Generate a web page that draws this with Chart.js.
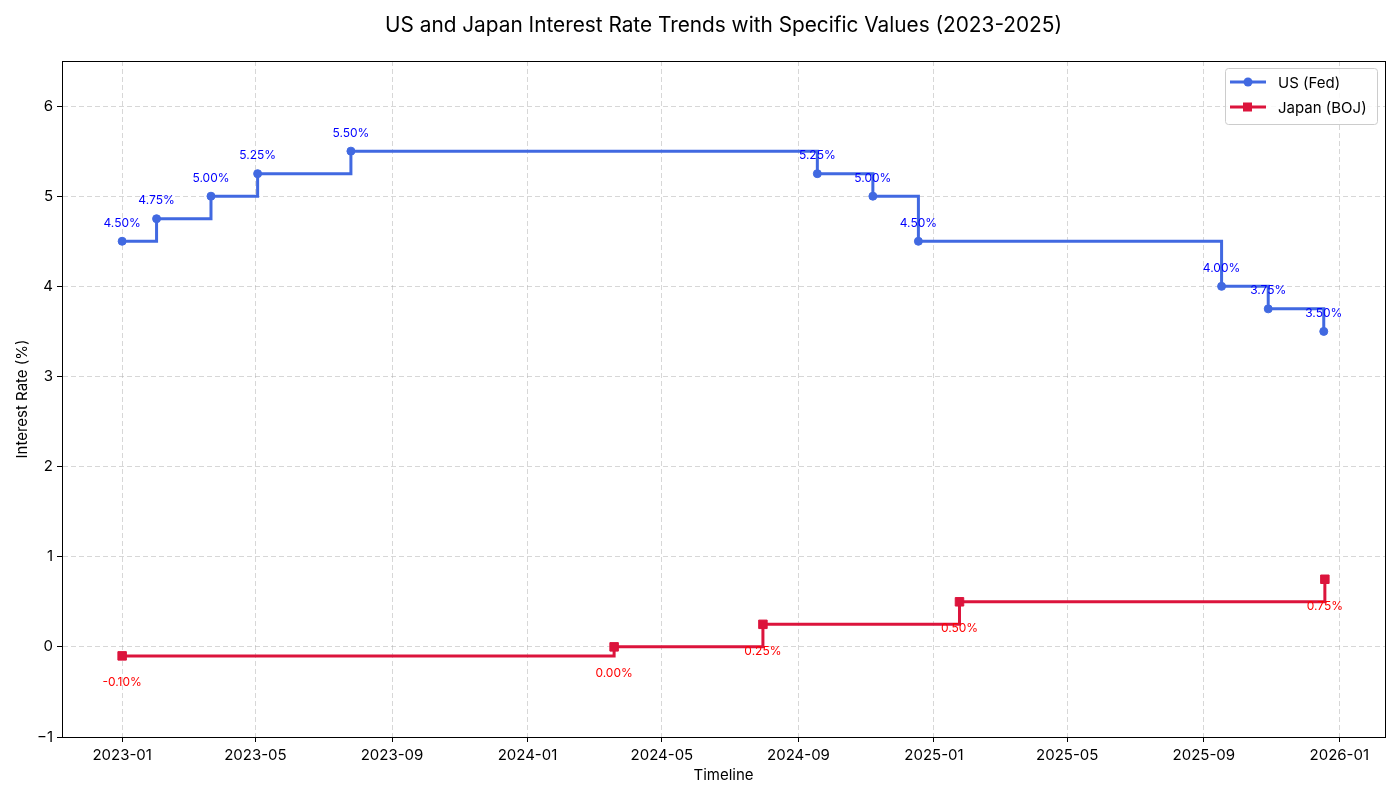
<!DOCTYPE html>
<html><head><meta charset="utf-8">
<script src="https://cdn.jsdelivr.net/npm/chart.js@4.4.1/dist/chart.umd.min.js"></script>
<style>html,body{margin:0;padding:0;background:#fff}#wrap{width:1400px;height:800px}</style>
</head><body><div id="wrap"><canvas id="c" width="1400" height="800"></canvas></div>
<script>
const usDates = ['2023-01-01','2023-02-01','2023-03-22','2023-05-03','2023-07-26','2024-09-18','2024-11-07','2024-12-18','2025-09-17','2025-10-29','2025-12-18'];
const usRates = [4.50,4.75,5.00,5.25,5.50,5.25,5.00,4.50,4.00,3.75,3.50];
const jpDates = ['2023-01-01','2024-03-19','2024-07-31','2025-01-24','2025-12-19'];
const jpRates = [-0.10,0.00,0.25,0.50,0.75];
const xTickDates = ['2023-01-01','2023-05-01','2023-09-01','2024-01-01','2024-05-01','2024-09-01','2025-01-01','2025-05-01','2025-09-01','2026-01-01'];
const yTicks = [-1,0,1,2,3,4,5,6];
const titleText = 'US and Japan Interest Rate Trends with Specific Values (2023-2025)';

const FONT = 'Inter, Roboto, sans-serif';
const base = Date.UTC(2023,0,1);
function toDays(s){const p=s.split('-').map(Number);return (Date.UTC(p[0],p[1]-1,p[2])-base)/86400000;}
function fromDays(d){const dt=new Date(base+Math.round(d)*86400000);return dt.getUTCFullYear()+'-'+String(dt.getUTCMonth()+1).padStart(2,'0');}
const usData = usDates.map((d,i)=>({x:toDays(d),y:usRates[i]}));
const jpData = jpDates.map((d,i)=>({x:toDays(d),y:jpRates[i]}));
const allX = usData.concat(jpData).map(p=>p.x);
const xMinD = Math.min(...allX), xMaxD = Math.max(...allX), span = xMaxD-xMinD;

const labelPlugin = {
  id:'valueLabels',
  afterDatasetsDraw(chart){
    const ctx=chart.ctx;
    ctx.save();
    ctx.font='12px '+FONT;
    ctx.textAlign='center';ctx.textBaseline='middle';
    chart.data.datasets.forEach((ds,di)=>{
      const meta=chart.getDatasetMeta(di);
      meta.data.forEach((pt,i)=>{
        const v=ds.data[i].y;
        ctx.fillStyle=ds.labelColor;
        ctx.fillText(v.toFixed(2)+'%',pt.x,pt.y+ds.labelOffset);
      });
    });
    ctx.restore();
  }
};
const framePlugin = {
  id:'frame',
  afterDraw(chart){
    const a=chart.chartArea,ctx=chart.ctx;
    ctx.save();
    // title centred over the plot area
    ctx.fillStyle='#000';ctx.font='20.8px '+FONT;ctx.textAlign='center';ctx.textBaseline='middle';
    ctx.fillText(titleText,(a.left+a.right)/2,26);
    ctx.strokeStyle='#000';ctx.lineWidth=1;
    ctx.strokeRect(Math.round(a.left)+0.5,Math.round(a.top)+0.5,Math.round(a.right-a.left),Math.round(a.bottom-a.top));
    const bx=1225,by=68,bw=152,bh=56;
    ctx.fillStyle='rgba(255,255,255,0.85)';
    ctx.strokeStyle='#cccccc';ctx.lineWidth=1;
    ctx.beginPath();
    if(ctx.roundRect){ctx.roundRect(bx+0.5,by+0.5,bw,bh,3);}else{ctx.rect(bx+0.5,by+0.5,bw,bh);}
    ctx.fill();ctx.stroke();
    chart.data.datasets.forEach((ds,i)=>{
      const y=by+14+i*25;
      ctx.strokeStyle=ds.borderColor;ctx.lineWidth=3;
      ctx.beginPath();ctx.moveTo(1230,y);ctx.lineTo(1266,y);ctx.stroke();
      ctx.fillStyle=ds.borderColor;
      if(ds.pointStyle==='rect'){ctx.fillRect(1243,y-4.5,9,9);}else{ctx.beginPath();ctx.arc(1248,y,4.5,0,Math.PI*2);ctx.fill();}
      ctx.fillStyle='#000';ctx.font='15px '+FONT;ctx.textAlign='left';ctx.textBaseline='middle';
      ctx.fillText(ds.label,1278,y+1);
    });
    ctx.restore();
  }
};

const gridOpts = {color:'rgba(176,176,176,0.5)',lineWidth:1,drawTicks:true,tickLength:5,tickColor:'#000',tickBorderDash:[],tickWidth:1};

new Chart(document.getElementById('c'),{
  type:'line',
  data:{datasets:[
    {label:'US (Fed)',data:usData,borderColor:'#4169E1',backgroundColor:'#4169E1',borderWidth:3,stepped:'before',pointStyle:'circle',pointRadius:4,pointBorderWidth:1,pointHoverRadius:4,labelColor:'#0000ff',labelOffset:-18},
    {label:'Japan (BOJ)',data:jpData,borderColor:'#DC143C',backgroundColor:'#DC143C',borderWidth:3,stepped:'before',pointStyle:'rect',pointRadius:6,pointBorderWidth:1,pointHoverRadius:6,labelColor:'#ff0000',labelOffset:27}
  ]},
  options:{
    responsive:false,animation:false,
    layout:{padding:{left:0,right:15,top:61,bottom:0}},
    plugins:{
      legend:{display:false},tooltip:{enabled:false},title:{display:false}
    },
    scales:{
      x:{type:'linear',min:xMinD-span*0.05,max:xMaxD+span*0.05,
        afterBuildTicks(s){s.ticks=xTickDates.map(d=>({value:toDays(d)}));},
        afterFit(s){s.height=63;},
        ticks:{callback:(v)=>fromDays(v),color:'#000',font:{family:FONT,size:15},padding:4,maxRotation:0,autoSkip:false},
        grid:gridOpts,
        border:{display:true,color:'#000',width:1,dash:[5,3]},
        title:{display:true,text:'Timeline',color:'#000',font:{family:FONT,size:15},padding:{top:0,bottom:16}}
      },
      y:{type:'linear',min:-1,max:6.5,
        afterBuildTicks(s){s.ticks=yTicks.map(v=>({value:v}));},
        afterFit(s){s.width=62;},
        ticks:{callback:(v)=>String(v).replace('-','\u2212'),color:'#000',font:{family:FONT,size:15},padding:4},
        grid:gridOpts,
        border:{display:true,color:'#000',width:1,dash:[5,3]},
        title:{display:true,text:'Interest Rate (%)',color:'#000',font:{family:FONT,size:15},padding:{top:13,bottom:4}}
      }
    }
  },
  plugins:[labelPlugin,framePlugin]
});
</script></body></html>
